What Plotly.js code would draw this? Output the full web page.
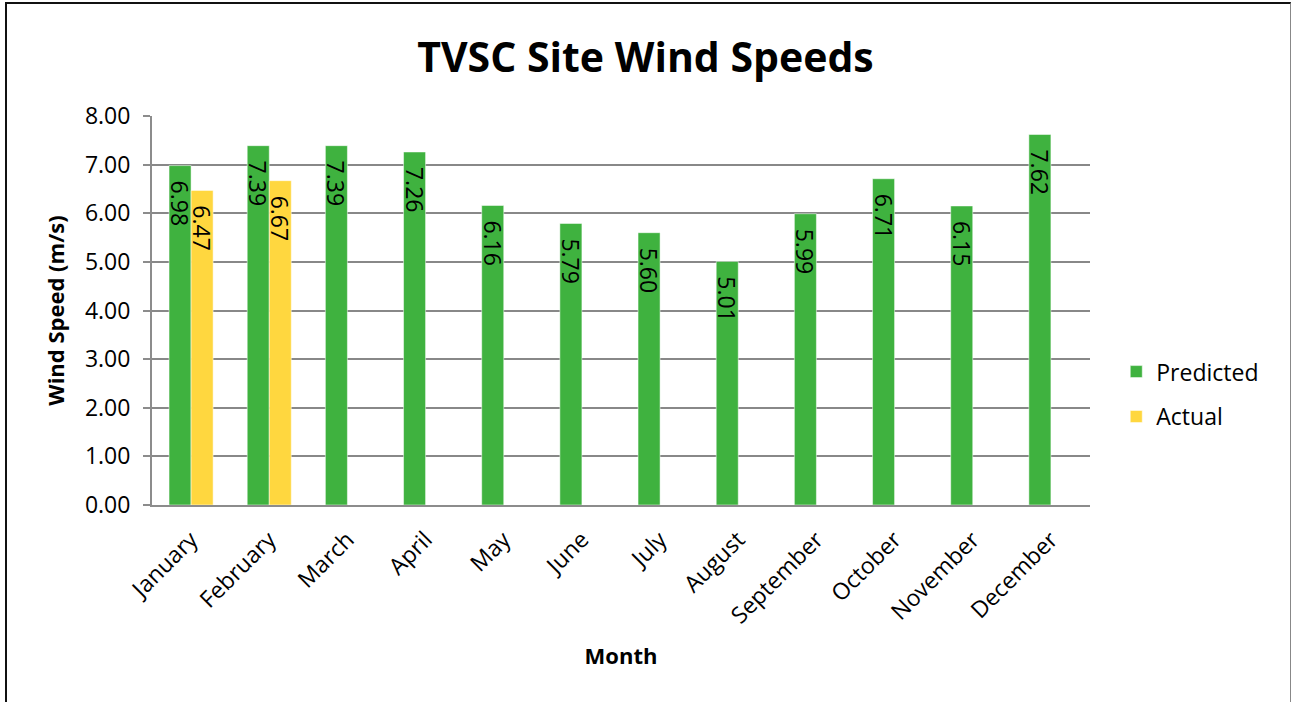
<!DOCTYPE html>
<html>
<head>
<meta charset="utf-8">
<script src="https://cdn.plot.ly/plotly-3.0.1.min.js"></script>
<style>
html,body{margin:0;padding:0;background:#fff;}
#wrap{position:relative;width:1291px;height:702px;}
#chart{width:1291px;height:702px;}
#frame{position:absolute;left:5px;top:2px;width:1283px;height:710px;border-left:2px solid #111;border-top:2px solid #111;border-right:1.5px solid #888;pointer-events:none;}
</style>
</head>
<body>
<div id="wrap"><div id="chart"></div><div id="frame"></div></div>
<script>
const months = ["January","February","March","April","May","June","July","August","September","October","November","December"];
const predicted = [6.98, 7.39, 7.39, 7.26, 6.16, 5.79, 5.60, 5.01, 5.99, 6.71, 6.15, 7.62];
const actual = [6.47, 6.67, null, null, null, null, null, null, null, null, null, null];
const yTicks = [0,1,2,3,4,5,6,7,8];

const fontFam = "Open Sans, Noto Sans, sans-serif";

function labels(arr){ return arr.map(v => v === null ? "" : "\u00a0\u00a0" + v.toFixed(2)); }

const traces = [
  {type:"bar", name:"Predicted", x:months, y:predicted, text:labels(predicted),
   textposition:"inside", insidetextanchor:"end", textangle:90, constraintext:"none",
   textfont:{family:fontFam, size:23, color:"#000"},
   marker:{color:"#3fb23f", line:{color:"rgba(255,255,255,0.5)", width:1}},
   legendgroup:"a", hoverinfo:"x+y"},
  {type:"bar", name:"Actual", x:months, y:actual, text:labels(actual),
   textposition:"inside", insidetextanchor:"end", textangle:90, constraintext:"none",
   textfont:{family:fontFam, size:23, color:"#000"},
   marker:{color:"#ffd73f", line:{color:"rgba(255,255,255,0.5)", width:1}},
   legendgroup:"b", hoverinfo:"x+y"}
];

const layout = {
  width:1291, height:702,
  margin:{l:152, r:201, t:116, b:197, pad:0},
  paper_bgcolor:"#fff", plot_bgcolor:"#fff",
  barmode:"group", bargap:0.436, bargroupgap:0,
  font:{family:fontFam, color:"#000", size:23},
  title:{text:"<b>TVSC Site Wind Speeds</b>", x:0.5, xref:"container", y:0.918, yanchor:"middle",
         font:{family:fontFam, size:41, color:"#000"}},
  xaxis:{type:"category", tickangle:-45, showgrid:false, showline:true, linecolor:"#8c8c8c", linewidth:2,
         ticks:"", ticklabelstandoff:10, tickfont:{family:fontFam, size:23}, automargin:false,
         title:{text:"<b>Month</b>", font:{family:fontFam, size:22}, standoff:20}},
  yaxis:{range:[0,8], tickvals:yTicks, tickformat:".2f", showgrid:true, gridcolor:"#888888", gridwidth:2,
         showline:true, linecolor:"#8c8c8c", linewidth:2, ticks:"outside", ticklen:7, tickcolor:"#8c8c8c", tickwidth:2,
         ticklabelstandoff:8, tickfont:{family:fontFam, size:23}, zeroline:false, automargin:false,
         title:{text:"<b>Wind Speed (m/s)</b>", font:{family:fontFam, size:22}, standoff:14}},
  legend:{x:1.028, y:0.285, xanchor:"left", yanchor:"middle", traceorder:"grouped", tracegroupgap:12,
          font:{family:fontFam, size:23}, bgcolor:"rgba(0,0,0,0)"},
  showlegend:true
};

Plotly.newPlot("chart", traces, layout, {displayModeBar:false, staticPlot:true});
</script>
</body>
</html>
